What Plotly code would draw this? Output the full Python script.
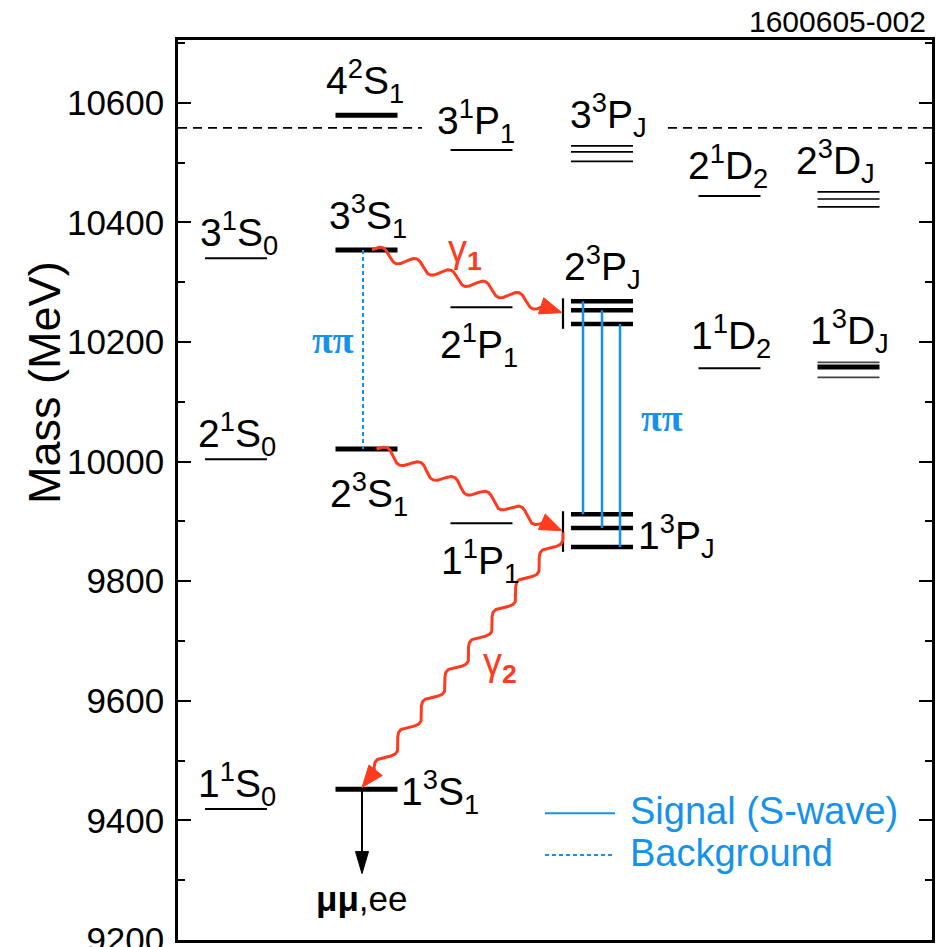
import numpy as np
import plotly.graph_objects as go

# ---- axis ranges -----------------------------------------------------------
Y_MIN, Y_MAX = 9200, 10705
X_MAX = 754
PLOT_W, PLOT_H = 754, 900
K = PLOT_H / (Y_MAX - Y_MIN)          # screen pixels per MeV

# ---- level data (MeV) ------------------------------------------------------
col_x = {"1S0": 58, "3S1": 188.5, "1P1": 303.5, "3PJ": 424, "1D2": 551.5, "3DJ": 670.5}
HALF = 31

singlet_s = [10340, 10004, 9419]            # 3,2,1 ^1S_0
triplet_s = [10579, 10354, 10021, 9452]     # 4,3,2,1 ^3S_1
singlet_p = [10521, 10258, 9897]            # 3,2,1 ^1P_1
triplet_p3 = [10528, 10518, 10502]          # 3^3P_J
triplet_p2 = [10268, 10253, 10230]          # 2^3P_J
triplet_p1 = [9912, 9889, 9857]             # 1^3P_J
singlet_d = [10444, 10156]                  # 2,1 ^1D_2
triplet_d2 = [10451, 10439, 10426]          # 2^3D_J
triplet_d1 = [10166, 10158, 10141]          # 1^3D_J
threshold = 10558                           # open-bottom threshold

y_ticks = [9200, 9400, 9600, 9800, 10000, 10200, 10400, 10600]
y_tick_text = [str(v) for v in y_ticks]

RED = "#FF3B1F"
BLUE = "#1592EC"
FONT = "Liberation Sans Narrow, Liberation Sans, Arial"
LBL = 39

fig = go.Figure()


def hlines(col, masses, width, color="black"):
    xs, ys = [], []
    c = col_x[col]
    for m in masses:
        xs += [c - HALF, c + HALF, None]
        ys += [m, m, None]
    fig.add_trace(go.Scatter(x=xs, y=ys, mode="lines", hoverinfo="skip",
                             line=dict(color=color, width=width)))


def to_scr(x, m):
    return np.array([x, (m - Y_MIN) * K])


def arrow_head(tip, direction, length, halfw, color):
    t = direction / np.linalg.norm(direction)
    n = np.array([-t[1], t[0]])
    base = tip - length * t
    pts = [tip, base + halfw * n, base - halfw * n, tip]
    xs = [p[0] for p in pts]
    ys = [Y_MIN + p[1] / K for p in pts]
    fig.add_trace(go.Scatter(x=xs, y=ys, mode="lines", fill="toself",
                             fillcolor=color, line=dict(color=color, width=1),
                             hoverinfo="skip"))


def photon(x0, m0, x1, m1, periods, amp=5.5, head=22, halfw=8.5):
    p0, p1 = to_scr(x0, m0), to_scr(x1, m1)
    d = p1 - p0
    L = np.linalg.norm(d)
    t = d / L
    n = np.array([-t[1], t[0]])
    body = L - head + 2
    s = np.linspace(0, body, 500)
    w = amp * np.sin(2 * np.pi * periods * s / body)
    pts = p0[None, :] + s[:, None] * t[None, :] + w[:, None] * n[None, :]
    fig.add_trace(go.Scatter(x=pts[:, 0], y=Y_MIN + pts[:, 1] / K, mode="lines",
                             line=dict(color=RED, width=3), hoverinfo="skip"))
    arrow_head(p1, d, head, halfw, RED)


# ---- threshold (dashed) ----------------------------------------------------
for xa, xb in [(0, 244), (490, X_MAX)]:
    fig.add_trace(go.Scatter(x=[xa, xb], y=[threshold, threshold], mode="lines",
                             hoverinfo="skip",
                             line=dict(color="black", width=1.6, dash="9px,6px")))

# ---- energy levels ---------------------------------------------------------
hlines("1S0", singlet_s, 2)
hlines("3S1", triplet_s, 5)
hlines("1P1", singlet_p, 2)
hlines("3PJ", triplet_p3, 1.6)
hlines("3PJ", triplet_p2, 4.5)
hlines("3PJ", triplet_p1, 4.5)
hlines("1D2", singlet_d, 2)
hlines("3DJ", triplet_d2, 1.6)
hlines("3DJ", [triplet_d1[0], triplet_d1[2]], 1.8, "#444444")
hlines("3DJ", [triplet_d1[1]], 5)

# vertical markers in front of the P-wave multiplets
bar_x = col_x["3PJ"] - 39
for mult in (triplet_p2, triplet_p1):
    fig.add_trace(go.Scatter(x=[bar_x, bar_x], y=[max(mult) + 5, min(mult) - 8],
                             mode="lines", hoverinfo="skip",
                             line=dict(color="black", width=2.2)))

# ---- pi-pi transitions -----------------------------------------------------
for off, top, bot in zip([-19, 0, 18], triplet_p2, triplet_p1):
    fig.add_trace(go.Scatter(x=[col_x["3PJ"] + off] * 2, y=[top, bot], mode="lines",
                             hoverinfo="skip", line=dict(color=BLUE, width=2.5)))
dot_x = col_x["3S1"] - 3.5
fig.add_trace(go.Scatter(x=[dot_x, dot_x], y=[triplet_s[1], triplet_s[2]], mode="lines",
                         hoverinfo="skip",
                         line=dict(color=BLUE, width=2, dash="4px,3px")))

# ---- radiative transitions (wavy photons) ----------------------------------
tip_x = bar_x - 1
photon(col_x["3S1"] + 5.5, triplet_s[1], tip_x, np.mean([triplet_p2[0], triplet_p2[2]]), 5)
photon(col_x["3S1"] + 10, triplet_s[2], tip_x, np.mean([triplet_p1[0], triplet_p1[2]]), 5)
photon(bar_x, np.mean([triplet_p1[0], triplet_p1[2]]) - 3, col_x["3S1"] - 4.5,
       triplet_s[3] + 3, 8)

# ---- dilepton decay of the ground state ------------------------------------
lep_x = col_x["3S1"] - 4.5
lep_end = triplet_s[3] - 141
fig.add_trace(go.Scatter(x=[lep_x, lep_x], y=[triplet_s[3], lep_end + 20], mode="lines",
                         hoverinfo="skip", line=dict(color="black", width=2)))
arrow_head(to_scr(lep_x, lep_end), np.array([0.0, -1.0]), 22, 6.5, "black")

# ---- legend ----------------------------------------------------------------
leg_y1, leg_y2 = 9412, 9342
fig.add_shape(type="line", x0=367, x1=437, y0=leg_y1, y1=leg_y1,
              line=dict(color=BLUE, width=2))
fig.add_shape(type="line", x0=367, x1=437, y0=leg_y2, y1=leg_y2,
              line=dict(color=BLUE, width=2, dash="4px,3px"))

ann = []


def label(text, x, y, xanchor="center", yanchor="middle", yshift=0, size=LBL,
          color="black", family=FONT, xref="x", yref="y", **kw):
    d = dict(text=text, x=x, y=y, xref=xref, yref=yref, xanchor=xanchor,
             yanchor=yanchor, yshift=yshift, showarrow=False,
             font=dict(size=size, color=color, family=family))
    d.update(kw)
    ann.append(d)


def st(n, l, s, j):
    return f"{n}<sup>{s}</sup>{l}<sub>{j}</sub>"


label(st(4, "S", 2, 1), 187, triplet_s[0], yanchor="bottom", yshift=4)
label(st(3, "P", 1, 1), 298, singlet_p[0], yanchor="bottom", yshift=-1)
label(st(3, "P", 3, "J"), 430, triplet_p3[0], yanchor="bottom", yshift=1)
label(st(2, "D", 1, 2), 550, singlet_d[0], yanchor="bottom", yshift=0)
label(st(2, "D", 3, "J"), 657, triplet_d2[0], yanchor="bottom", yshift=1)
label(st(3, "S", 1, 0), 61, singlet_s[0], yanchor="bottom", yshift=-5)
label(st(3, "S", 3, 1), 190, triplet_s[1], yanchor="bottom", yshift=4)
label(st(2, "P", 3, "J"), 424, triplet_p2[0], yanchor="bottom", yshift=4)
label(st(2, "P", 1, 1), 301, singlet_p[1], yanchor="top", yshift=-8)
label(st(1, "D", 1, 2), 553, singlet_d[1], yanchor="bottom", yshift=2)
label(st(1, "D", 3, "J"), 671, triplet_d1[0], yanchor="bottom", yshift=1)
label(st(2, "S", 1, 0), 59, singlet_s[1], yanchor="bottom", yshift=-5)
label(st(2, "S", 3, 1), 191, triplet_s[2], yanchor="top", yshift=-15)
label(st(1, "P", 1, 1), 302, singlet_p[2], yanchor="top", yshift=-8)
label(st(1, "P", 3, "J"), 458, np.mean(triplet_p1), xanchor="left", yshift=-6)
label(st(1, "S", 1, 0), 59, singlet_s[2], yanchor="bottom", yshift=-5)
label(st(1, "S", 3, 1), 221, triplet_s[3], xanchor="left", yshift=-3)
label("<b>μμ</b>,ee", 183, lep_end, yanchor="top", yshift=-3, size=35)

label("<b>ππ</b>", 155, 10203, size=38, color=BLUE, family="Liberation Serif, DejaVu Serif")
label("<b>ππ</b>", 484, 10073, size=38, color=BLUE, family="Liberation Serif, DejaVu Serif")
label("γ<sub><b>1</b></sub>", 287, 10350, size=38, color=RED)
label("γ<sub><b>2</b></sub>", 322, 9660, size=38, color=RED)

label("Signal (S-wave)", 450, leg_y1, xanchor="left", yshift=2, size=38, color=BLUE)
label("Background", 450, leg_y2, xanchor="left", yshift=2, size=38, color=BLUE)

label("Mass (MeV)", -133 / PLOT_W, 0.619, xref="paper", yref="paper", size=45,
      textangle=-90)
label("1600605-002", 0.995, 1.0, xref="paper", yref="paper", xanchor="right",
      yanchor="bottom", size=30, yshift=0)

fig.update_layout(
    width=939, height=947,
    margin=dict(l=178, r=7, t=40, b=7, autoexpand=False),
    plot_bgcolor="white", paper_bgcolor="white",
    showlegend=False,
    annotations=ann,
    xaxis=dict(range=[0, X_MAX], showgrid=False, zeroline=False, showticklabels=False,
               ticks="", showline=True, mirror=True, linecolor="black", linewidth=2.5,
               automargin=False),
    yaxis=dict(range=[Y_MIN, Y_MAX], showgrid=False, zeroline=False,
               tickmode="array", tickvals=y_ticks, ticktext=y_tick_text,
               ticks="inside", ticklen=13, tickwidth=1.5,
               tickcolor="black", mirror="allticks", showline=True,
               linecolor="black", linewidth=2.5, ticklabelstandoff=4,
               ticklabeloverflow="allow", automargin=False,
               tickfont=dict(size=35, family="Liberation Sans, Arial", color="black"),
               minor=dict(dtick=100, tick0=9200, ticks="inside", ticklen=7,
                          tickwidth=1.5, tickcolor="black")),
)

fig.write_html("out.html")
